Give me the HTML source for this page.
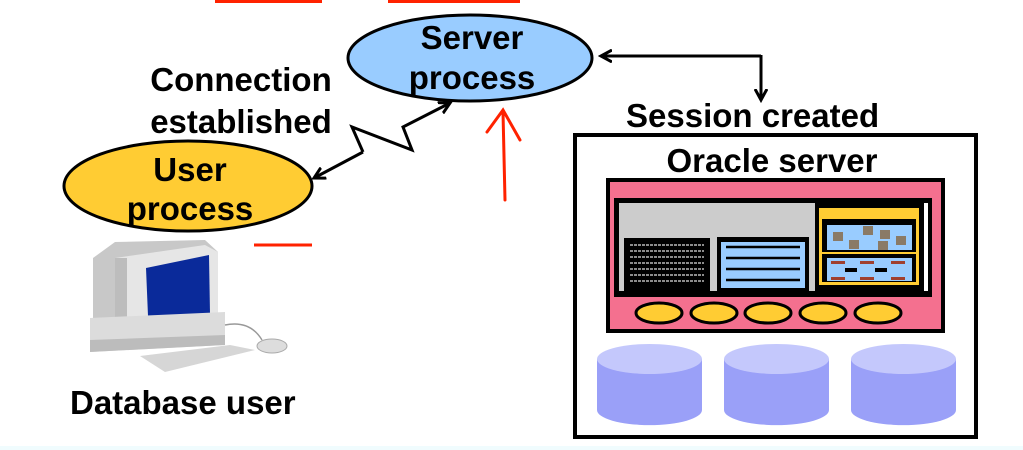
<!DOCTYPE html>
<html><head><meta charset="utf-8"><style>
html,body{margin:0;padding:0;background:#fff;}
svg{display:block;}
text{font-family:"Liberation Sans",Arial,sans-serif;font-weight:bold;fill:#000;}
</style></head><body>
<svg width="1023" height="450" viewBox="0 0 1023 450" xmlns="http://www.w3.org/2000/svg">
<defs>
<marker id="ah" markerWidth="14" markerHeight="14" refX="11" refY="7" orient="auto" markerUnits="userSpaceOnUse">
<path d="M0,1 L11,7 L0,13" fill="none" stroke="#000" stroke-width="3"/>
</marker>
</defs>
<rect x="0" y="446" width="1023" height="4" fill="#f0fcfe"/>
<rect x="215" y="0" width="107" height="3" fill="#ff2200"/>
<rect x="388" y="0" width="132" height="3" fill="#ff2200"/>

<ellipse cx="470" cy="58" rx="122" ry="43" fill="#99ccff" stroke="#000" stroke-width="3"/>
<text x="472" y="49" font-size="33" text-anchor="middle">Server</text>
<text x="472" y="89" font-size="33" text-anchor="middle">process</text>

<ellipse cx="188" cy="186" rx="124" ry="45" fill="#ffcc33" stroke="#000" stroke-width="3"/>
<text x="190" y="181" font-size="33" text-anchor="middle">User</text>
<text x="190" y="220" font-size="33" text-anchor="middle">process</text>

<text x="241" y="91" font-size="33" text-anchor="middle">Connection</text>
<text x="241" y="133" font-size="33" text-anchor="middle">established</text>

<polyline points="363,152 352,127 412,150 403,127 450,103" fill="none" stroke="#000" stroke-width="3" marker-end="url(#ah)"/>
<line x1="363" y1="152" x2="314" y2="178" stroke="#000" stroke-width="3" marker-end="url(#ah)"/>

<path d="M505,200 L503,112 M487,132 L503,110 L520,140" fill="none" stroke="#ff2200" stroke-width="3" stroke-linecap="round"/>
<line x1="254" y1="245" x2="312" y2="245" stroke="#ff2200" stroke-width="3"/>

<polyline points="761,55 761,100" fill="none" stroke="#000" stroke-width="3" marker-end="url(#ah)"/>
<polyline points="761,56 601,56" fill="none" stroke="#000" stroke-width="3" marker-end="url(#ah)"/>
<text x="626" y="127" font-size="33">Session created</text>

<rect x="575" y="135" width="401" height="302" fill="#fff" stroke="#000" stroke-width="4"/>
<text x="772" y="172" font-size="33" text-anchor="middle">Oracle server</text>
<rect x="608" y="180" width="335" height="151" fill="#f4708f" stroke="#000" stroke-width="4"/>
<rect x="614" y="198" width="318" height="99" fill="#000"/>
<rect x="619" y="203" width="196" height="88" fill="#cccccc"/>
<rect x="624" y="238" width="86" height="53" fill="#000"/>
<g stroke="#bbb" stroke-width="1.5" stroke-dasharray="3,1">
<line x1="630" y1="245" x2="704" y2="245"/><line x1="630" y1="251" x2="704" y2="251"/>
<line x1="630" y1="257" x2="704" y2="257"/><line x1="630" y1="263" x2="704" y2="263"/>
<line x1="630" y1="269" x2="704" y2="269"/><line x1="630" y1="275" x2="704" y2="275"/>
<line x1="630" y1="281" x2="704" y2="281"/>
</g>
<rect x="717" y="237" width="92" height="54" fill="#000"/>
<rect x="721" y="242" width="84" height="46" fill="#99ccff"/>
<g stroke="#000" stroke-width="2.5">
<line x1="726" y1="247" x2="800" y2="247"/><line x1="726" y1="258" x2="800" y2="258"/>
<line x1="726" y1="269" x2="800" y2="269"/><line x1="726" y1="280" x2="800" y2="280"/>
</g>
<rect x="819" y="208" width="100" height="77" fill="#ffcc33"/>
<rect x="822" y="219" width="94" height="63" fill="#000"/>
<rect x="827" y="225" width="85" height="25" fill="#99ccff"/>
<rect x="822" y="252" width="94" height="2" fill="#ffcc33"/>
<rect x="827" y="258" width="85" height="23" fill="#99ccff"/>
<g fill="#8a7a66"><rect x="833" y="232" width="10" height="9"/><rect x="849" y="240" width="10" height="9"/><rect x="863" y="226" width="10" height="9"/><rect x="880" y="230" width="10" height="9"/><rect x="878" y="241" width="10" height="9"/><rect x="896" y="236" width="10" height="9"/></g>
<g fill="#a04030"><rect x="831" y="261" width="14" height="3"/><rect x="860" y="261" width="14" height="3"/><rect x="891" y="261" width="14" height="3"/><rect x="831" y="277" width="14" height="3"/><rect x="860" y="277" width="14" height="3"/><rect x="891" y="277" width="14" height="3"/></g>
<g fill="#000"><rect x="845" y="268" width="12" height="4"/><rect x="875" y="268" width="12" height="4"/></g>
<rect x="924" y="203" width="4" height="88" fill="#fff"/>
<g fill="#ffcc33" stroke="#000" stroke-width="3">
<ellipse cx="659" cy="313" rx="23" ry="10"/><ellipse cx="714" cy="313" rx="23" ry="10"/>
<ellipse cx="768" cy="313" rx="23" ry="10"/><ellipse cx="823" cy="313" rx="23" ry="10"/>
<ellipse cx="878" cy="313" rx="23" ry="10"/>
</g>
<g>
<path d="M597,359 L597,410 A52,15 0 0 0 702,410 L702,359 Z" fill="#9aa0f8"/>
<ellipse cx="649.5" cy="359" rx="52.5" ry="15" fill="#c4c8fc"/>
<path d="M724,359 L724,410 A52,15 0 0 0 829,410 L829,359 Z" fill="#9aa0f8"/>
<ellipse cx="776.5" cy="359" rx="52.5" ry="15" fill="#c4c8fc"/>
<path d="M851,359 L851,410 A52,15 0 0 0 956,410 L956,359 Z" fill="#9aa0f8"/>
<ellipse cx="903.5" cy="359" rx="52.5" ry="15" fill="#c4c8fc"/>
</g>

<path d="M93,258 L115,242 L205,240 L218,252 L218,322 L93,322 Z" fill="#c8c8c8"/>
<path d="M115,258 L205,245 L218,252 L218,322 L115,322 Z" fill="#e6e6e6"/>
<rect x="115" y="258" width="12" height="64" fill="#bdbdbd"/>
<path d="M146,268 L209,255 L210,314 L148,316 Z" fill="#0a2a9a"/>
<path d="M90,318 L225,312 L225,345 L90,352 Z" fill="#dcdcdc"/>
<path d="M90,340 L225,335 L225,345 L90,352 Z" fill="#bcbcbc"/>
<path d="M140,356 L230,345 L255,350 L165,372 Z" fill="#d6d6d6"/>
<path d="M225,325 Q250,320 262,340" fill="none" stroke="#999" stroke-width="1.5"/>
<ellipse cx="272" cy="346" rx="15" ry="7" fill="#ddd" stroke="#aaa"/>
<text x="70" y="414" font-size="33">Database user</text>
</svg>
</body></html>
